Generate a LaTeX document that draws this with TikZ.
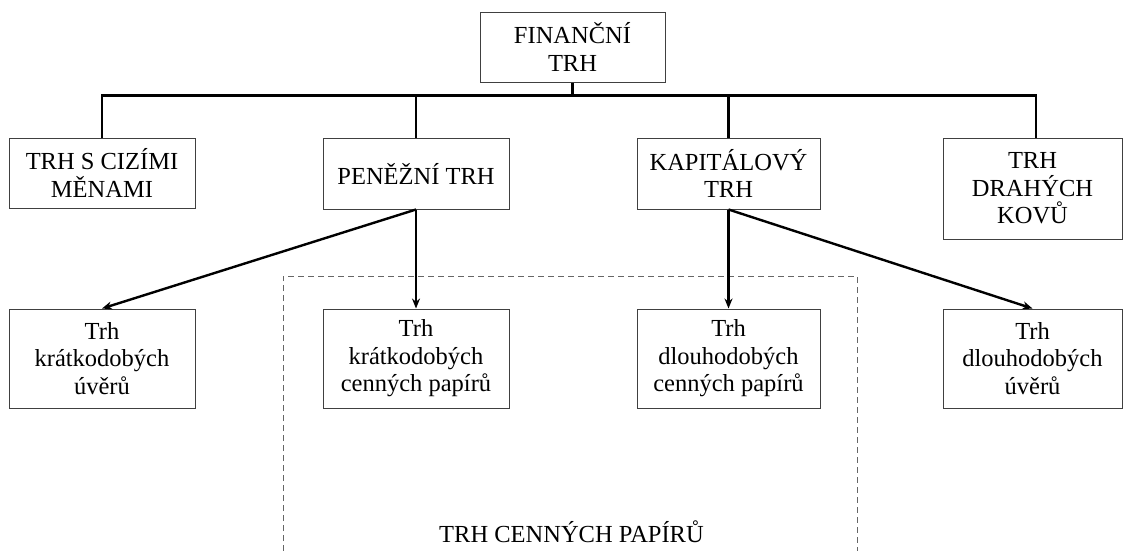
\documentclass[tikz,border=0pt]{standalone}
\usepackage{fontspec}
\setmainfont{Liberation Serif}
\usetikzlibrary{arrows.meta}
\begin{document}
\begin{tikzpicture}[x=1pt,y=-1pt,
  box/.style={draw=black!75, line width=1pt, fill=white, inner sep=0pt, align=center,
    font=\fontsize{24.5}{27.5}\selectfont},
  link/.style={line width=2.4pt, black},
  arr/.style={link, -{Stealth[length=10pt,width=8pt]}},
  group/.style={draw=black!60, line width=1pt, dash pattern=on 6pt off 4pt}]
\useasboundingbox[fill=white] (0,0) rectangle (1131,550);
\draw[group] (283,551) -- (283,276) -- (857,276) -- (857,551);
\node[font=\fontsize{24.5}{27.5}\selectfont, anchor=base] (cp) at (571.5,542) {TRH CENNÝCH PAPÍRŮ};
\node[box, minimum width=185pt, minimum height=70pt] (ft) at (572.5,47) {FINANČNÍ\\TRH};
\node[box, minimum width=186pt, minimum height=70pt] (a1) at (102,173) {TRH S CIZÍMI\\MĚNAMI};
\node[box, minimum width=186pt, minimum height=71pt] (a2) at (416,173.5) {PENĚŽNÍ TRH};
\node[box, minimum width=183pt, minimum height=71pt] (a3) at (728.5,173.5) {KAPITÁLOVÝ\\TRH};
\node[box, minimum width=179pt, minimum height=101pt] (a4) at (1032.5,188.5) {TRH\\DRAHÝCH\\KOVŮ};
\node[box, minimum width=186pt, minimum height=99pt] (b1) at (102,358.5) {Trh\\krátkodobých\\úvěrů};
\node[box, minimum width=186pt, minimum height=99pt] (b2) at (416,358.5) {Trh\\krátkodobých\\cenných papírů};
\node[box, minimum width=183pt, minimum height=99pt] (b3) at (728.5,358.5) {Trh\\dlouhodobých\\cenných papírů};
\node[box, minimum width=179pt, minimum height=99pt] (b4) at (1032.5,358.5) {Trh\\dlouhodobých\\úvěrů};
\coordinate (bar) at (0,95.5);
\coordinate (r4) at (1036,95.5);
\draw[link] (ft.south) -- (ft.south |- bar);
\draw[link, line join=miter] (a1.north) -- (a1.north |- bar) -- (r4) -- (r4 |- a4.north);
\draw[link] (a2.north) -- (a2.north |- bar);
\draw[link] (a3.north) -- (a3.north |- bar);
\draw[arr] (a2.south) -- (b1.north);
\draw[arr] (a2.south) -- (b2.north);
\draw[arr] (a3.south) -- (b3.north);
\draw[arr] (a3.south) -- (b4.north);
\end{tikzpicture}
\end{document}
